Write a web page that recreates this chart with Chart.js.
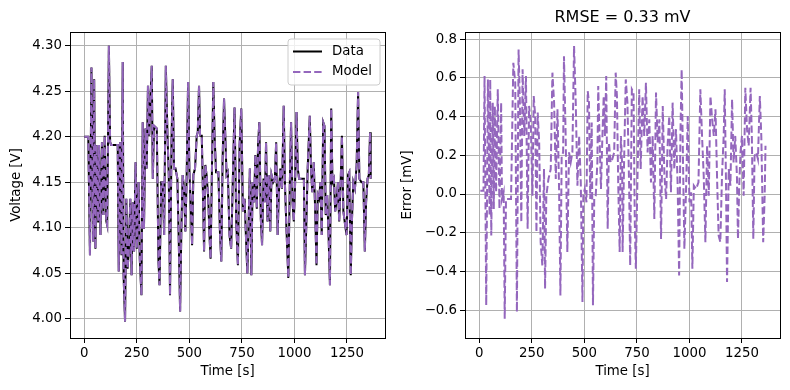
<!DOCTYPE html>
<html>
<head>
<meta charset="utf-8">
<script src="https://cdn.jsdelivr.net/npm/chart.js@4"></script>
<style>
  body { margin: 0; background: #fff; }
  .panel { position: absolute; top: 0; }
</style>
</head>
<body>
<div class="panel" style="left:0"><canvas id="voltageChart" width="395" height="390"></canvas></div>
<div class="panel" style="left:395px"><canvas id="errorChart" width="395" height="390"></canvas></div>
<script>
const timeV = [0, 19, 27, 34, 42, 47, 53, 58, 66, 70, 77, 84, 91, 97, 105, 109, 117, 123, 128, 159,
    164, 170, 177, 183, 187, 194, 200, 206, 212, 219, 225, 231, 237, 244, 250, 258, 264, 272, 278, 284,
    291, 297, 303, 309, 316, 321, 326, 332, 345, 353, 358, 366, 373, 380, 388, 396, 402, 408, 415, 421,
    427, 434, 443, 449, 456, 462, 468, 475, 481, 487, 494, 500, 506, 513, 519, 527, 535, 540, 546, 551,
    559, 563, 570, 576, 582, 590, 595, 601, 608, 614, 620, 627, 638, 646, 652, 658, 665, 671, 677, 683,
    691, 699, 707, 715, 723, 731, 739, 747, 755, 763, 769, 776, 782, 788, 795, 801, 808, 814, 821, 827,
    833, 840, 846, 853, 859, 865, 872, 878, 885, 891, 899, 907, 913, 920, 926, 933, 941, 949, 955, 962,
    968, 971, 978, 984, 991, 997, 1003, 1010, 1016, 1022, 1045, 1050, 1057, 1063, 1073, 1079, 1085, 1092, 1098, 1105,
    1111, 1117, 1124, 1130, 1137, 1143, 1149, 1156, 1162, 1169, 1175, 1181, 1188, 1194, 1200, 1207, 1213, 1220, 1226, 1233,
    1239, 1248, 1255, 1261, 1268, 1274, 1280, 1288, 1296, 1303, 1309, 1319, 1328, 1335, 1341, 1348, 1354, 1360, 1363];
const voltage = [4.200, 4.200, 4.070, 4.276, 4.085, 4.263, 4.077, 4.191, 4.107, 4.191, 4.092, 4.194, 4.114, 4.201, 4.107, 4.103, 4.300, 4.194, 4.191, 4.191,
    4.052, 4.194, 4.070, 4.282, 4.048, 3.997, 4.132, 4.055, 4.074, 4.132, 4.048, 4.128, 4.074, 4.172, 4.077, 4.150, 4.066, 4.026, 4.216, 4.099,
    4.209, 4.165, 4.256, 4.201, 4.249, 4.278, 4.154, 4.212, 4.209, 4.063, 4.037, 4.150, 4.150, 4.092, 4.278, 4.201, 4.158, 4.026, 4.194, 4.263,
    4.165, 4.165, 4.154, 4.092, 4.008, 4.099, 4.158, 4.143, 4.096, 4.154, 4.260, 4.165, 4.128, 4.081, 4.158, 4.165, 4.201, 4.205, 4.256, 4.201,
    4.201, 4.158, 4.074, 4.169, 4.158, 4.132, 4.096, 4.066, 4.172, 4.260, 4.201, 4.161, 4.161, 4.092, 4.063, 4.172, 4.242, 4.201, 4.158, 4.161,
    4.092, 4.077, 4.154, 4.232, 4.107, 4.059, 4.191, 4.231, 4.118, 4.132, 4.092, 4.050, 4.107, 4.165, 4.048, 4.150, 4.128, 4.180, 4.121, 4.191,
    4.216, 4.110, 4.081, 4.154, 4.128, 4.194, 4.107, 4.158, 4.096, 4.158, 4.150, 4.154, 4.194, 4.092, 4.139, 4.165, 4.143, 4.234, 4.147, 4.099,
    4.063, 4.045, 4.147, 4.216, 4.128, 4.107, 4.147, 4.227, 4.165, 4.154, 4.154, 4.048, 4.107, 4.165, 4.223, 4.165, 4.139, 4.172, 4.125, 4.059,
    4.136, 4.132, 4.150, 4.092, 4.216, 4.212, 4.114, 4.136, 4.096, 4.037, 4.231, 4.150, 4.154, 4.118, 4.128, 4.150, 4.107, 4.150, 4.201, 4.118,
    4.107, 4.092, 4.158, 4.161, 4.048, 4.110, 4.150, 4.143, 4.169, 4.249, 4.154, 4.150, 4.150, 4.074, 4.128, 4.154, 4.158, 4.205, 4.154];

// model error in mV
const timeE = [5, 20, 25, 33, 41, 49, 52, 57, 64, 69, 74, 80, 88, 96, 104, 108, 116, 121, 127, 135,
    151, 162, 171, 179, 187, 193, 200, 206, 214, 222, 230, 237, 245, 253, 259, 266, 272, 278, 285, 292,
    300, 308, 313, 319, 329, 340, 348, 356, 364, 372, 380, 386, 392, 399, 403, 411, 419, 427, 435, 443,
    451, 459, 467, 475, 483, 491, 495, 502, 510, 516, 522, 528, 535, 541, 547, 554, 562, 566, 573, 579,
    585, 592, 598, 604, 611, 617, 625, 633, 642, 649, 655, 661, 668, 674, 680, 682, 689, 697, 705, 713,
    718, 726, 734, 740, 745, 753, 761, 768, 777, 785, 793, 801, 809, 817, 825, 833, 841, 849, 857, 865,
    873, 881, 889, 896, 904, 912, 920, 928, 936, 944, 951, 957, 963, 970, 976, 984, 992, 1000, 1008, 1014,
    1021, 1032, 1043, 1052, 1060, 1068, 1076, 1084, 1092, 1100, 1108, 1116, 1124, 1132, 1139, 1147, 1155, 1163, 1168, 1174,
    1179, 1187, 1195, 1203, 1210, 1218, 1226, 1231, 1237, 1243, 1250, 1258, 1266, 1274, 1282, 1291, 1297, 1304, 1310, 1318,
    1326, 1335, 1342, 1351, 1358, 1362];
const errorMv = [0.017, 0.017, 0.609, -0.575, 0.592, -0.112, 0.592, -0.215, 0.472, -0.077, 0.455, 0.009, 0.541, -0.077, 0.472, -0.026, 0.009, -0.644, -0.026, -0.026,
    -0.026, 0.678, 0.575, -0.609, 0.747, 0.472, -0.146, 0.644, 0.300, 0.609, -0.180, 0.455, 0.369, -0.009, 0.506, 0.403, -0.197, 0.421, 0.266, -0.249,
    -0.369, 0.129, -0.489, -0.009, 0.077, 0.129, 0.627, 0.472, 0.077, 0.438, 0.009, -0.524, 0.197, 0.215, 0.712, 0.300, -0.300, 0.215, 0.163, 0.215,
    0.764, 0.472, 0.043, 0.300, 0.060, -0.558, -0.009, 0.026, -0.043, 0.532, 0.472, -0.026, 0.369, -0.575, -0.026, -0.009, 0.163, 0.558, 0.266, 0.026,
    0.266, 0.506, 0.300, 0.609, -0.180, 0.266, 0.163, 0.180, 0.215, 0.627, 0.506, 0.060, -0.300, 0.300, 0.146, -0.300, 0.163, 0.592, 0.472, 0.043,
    -0.369, 0.541, 0.524, -0.146, -0.386, 0.094, 0.541, 0.129, 0.506, 0.300, 0.575, 0.215, 0.386, 0.060, 0.300, -0.129, 0.524, 0.266, 0.386, -0.232,
    0.455, 0.094, -0.026, 0.249, 0.403, 0.009, 0.472, 0.129, 0.335, 0.043, -0.421, 0.300, 0.644, 0.129, -0.283, 0.026, 0.403, -0.043, 0.009, -0.386,
    0.043, 0.026, 0.060, 0.541, 0.300, 0.094, -0.249, 0.249, -0.009, 0.506, 0.386, 0.300, 0.438, 0.060, -0.215, -0.249, 0.094, 0.300, 0.541, 0.060,
    -0.455, 0.129, 0.043, 0.489, 0.163, 0.300, 0.094, -0.232, 0.043, 0.215, 0.300, -0.009, 0.549, 0.335, 0.249, 0.549, 0.300, -0.232, 0.197, 0.215,
    0.180, 0.506, 0.300, -0.249, -0.009, 0.249];

const timeTicks = [0, 250, 500, 750, 1000, 1250];
const voltTicks = [4.00, 4.05, 4.10, 4.15, 4.20, 4.25, 4.30];
const errTicks = [-0.6, -0.4, -0.2, 0.0, 0.2, 0.4, 0.6, 0.8];

const PURPLE = '#9467bd';
const FONT = { family: '"DejaVu Sans", sans-serif', size: 13.33 };

function toPoints(xs, ys) {
    return xs.map((x, i) => ({ x: x, y: ys[i] }));
}

// black box round the plot area, like matplotlib spines
const frame = {
    id: 'frame',
    afterDraw(chart) {
        const { ctx, chartArea: a } = chart;
        ctx.save();
        ctx.strokeStyle = '#000';
        ctx.lineWidth = 1;
        ctx.strokeRect(Math.round(a.left) + 0.5, Math.round(a.top) + 0.5,
            Math.round(a.right - a.left), Math.round(a.bottom - a.top));
        ctx.restore();
    }
};

// legend inside the upper right corner
const legendBox = {
    id: 'legendBox',
    afterDraw(chart) {
        if (!chart.options.plugins.legendBox) return;
        const { ctx, chartArea } = chart;
        const w = 92, h = 46;
        const x = chartArea.right - w - 5, y = chartArea.top + 7;
        ctx.save();
        ctx.beginPath();
        ctx.roundRect(x, y, w, h, 3);
        ctx.fillStyle = 'rgba(255,255,255,0.8)';
        ctx.fill();
        ctx.strokeStyle = '#cccccc';
        ctx.lineWidth = 1;
        ctx.stroke();
        chart.data.datasets.forEach((ds, i) => {
            const ly = y + 12.5 + i * 20.5;
            ctx.beginPath();
            ctx.setLineDash(ds.borderDash || []);
            ctx.strokeStyle = ds.borderColor;
            ctx.lineWidth = 2;
            ctx.moveTo(x + 5, ly);
            ctx.lineTo(x + 34, ly);
            ctx.stroke();
            ctx.setLineDash([]);
            ctx.fillStyle = '#000';
            ctx.font = '13.33px "DejaVu Sans"';
            ctx.textBaseline = 'middle';
            ctx.fillText(ds.label, x + 44, ly);
        });
        ctx.restore();
    }
};

function xAxis() {
    return {
        type: 'linear',
        min: -68,
        max: 1431,
        afterBuildTicks: s => { s.ticks = timeTicks.map(v => ({ value: v })); },
        afterFit: s => { s.height = 52; },
        ticks: { color: '#000', font: FONT, padding: 3, maxRotation: 0, callback: v => String(v) },
        grid: { color: '#b0b0b0', lineWidth: 1, tickColor: '#000', tickLength: 5 },
        border: { display: false },
        title: { display: true, text: 'Time [s]', color: '#000', font: FONT, padding: { top: 0, bottom: 10 } }
    };
}

function yAxis(min, max, ticks, fmt, label, titlePad) {
    return {
        min: min,
        max: max,
        afterBuildTicks: s => { s.ticks = ticks.map(v => ({ value: v })); },
        afterFit: s => { s.width = 70; },
        ticks: { color: '#000', font: FONT, padding: 3, callback: fmt },
        grid: { color: '#b0b0b0', lineWidth: 1, tickColor: '#000', tickLength: 5 },
        border: { display: false },
        title: { display: true, text: label, color: '#000', font: FONT, padding: { top: titlePad, bottom: 0 } }
    };
}

new Chart(document.getElementById('voltageChart'), {
    type: 'line',
    data: {
        datasets: [
            {
                label: 'Data',
                data: toPoints(timeV, voltage),
                borderColor: '#000',
                borderWidth: 2,
                pointRadius: 0,
                tension: 0,
                order: 2
            },
            {
                label: 'Model',
                data: toPoints(timeV, voltage),
                borderColor: PURPLE,
                borderWidth: 2,
                borderDash: [7.4, 3.2],
                pointRadius: 0,
                tension: 0,
                order: 1
            }
        ]
    },
    options: {
        responsive: false,
        animation: false,
        layout: { padding: { left: 0, right: 10, top: 32, bottom: 0 } },
        plugins: { legend: { display: false }, tooltip: { enabled: false }, legendBox: true },
        scales: {
            x: xAxis(),
            y: yAxis(3.979, 4.315, voltTicks, v => v.toFixed(2), 'Voltage [V]', 9)
        }
    },
    plugins: [frame, legendBox]
});

new Chart(document.getElementById('errorChart'), {
    type: 'line',
    data: {
        datasets: [{
            label: 'Error',
            data: toPoints(timeE, errorMv),
            borderColor: PURPLE,
            borderWidth: 2,
            borderDash: [7.4, 3.2],
            pointRadius: 0,
            tension: 0
        }]
    },
    options: {
        responsive: false,
        animation: false,
        layout: { padding: { left: 0, right: 10, top: 0, bottom: 0 } },
        plugins: {
            legend: { display: false },
            tooltip: { enabled: false },
            title: {
                display: true,
                fullSize: false,
                text: 'RMSE = 0.33 mV',
                color: '#000',
                font: { family: '"DejaVu Sans", sans-serif', size: 16, weight: 'normal' },
                padding: { top: 8, bottom: 4.8 }
            }
        },
        scales: {
            x: xAxis(),
            y: yAxis(-0.744, 0.837, errTicks, v => v.toFixed(1).replace('-', '\u2212'), 'Error [mV]', 5)
        }
    },
    plugins: [frame]
});
</script>
</body>
</html>
